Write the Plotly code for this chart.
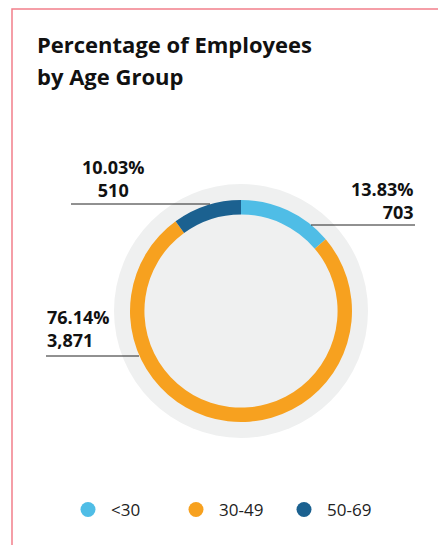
import plotly.graph_objects as go

# data
groups = ["<30", "30-49", "50-69"]
counts = [703, 3871, 510]
colors = ["#4fbde6", "#f7a11f", "#1b6190"]

total = sum(counts)
pcts = [c / total * 100 for c in counts]

W, H = 446, 545
OFF = 8  # page body margin
FONT = "Open Sans"

def px_x(x):
    return (x - OFF) / W

def px_y(y):
    return 1 - (y - OFF) / H

fig = go.Figure()

# grey disc behind the ring
fig.add_trace(go.Pie(
    values=[1], marker=dict(colors=["#eff0f0"], line=dict(width=0)),
    textinfo="none", hoverinfo="skip", showlegend=False, sort=False,
    domain=dict(x=[px_x(114), px_x(368)], y=[px_y(438), px_y(184)]),
))

# the ring
fig.add_trace(go.Pie(
    labels=groups, values=counts, hole=0.87, sort=False, direction="clockwise",
    marker=dict(colors=colors, line=dict(width=0)),
    textinfo="none", showlegend=False,
    domain=dict(x=[px_x(130), px_x(352)], y=[px_y(422), px_y(200)]),
))

# legend entries as round markers
for g, c in zip(groups, colors):
    fig.add_trace(go.Scatter(
        x=[None], y=[None], mode="markers", name=g,
        marker=dict(color=c, size=15, symbol="circle"),
    ))

lab = "<b>%.2f%%<br>%s</b>"
fig.add_annotation(x=px_x(113), y=px_y(178), text=lab % (pcts[2], f"{counts[2]:,}"),
                   align="center", xanchor="center", yanchor="middle")
fig.add_annotation(x=px_x(416), y=px_y(200), text=lab % (pcts[0], f"{counts[0]:,}"),
                   align="right", xanchor="right", yanchor="middle")
fig.add_annotation(x=px_x(45), y=px_y(328), text=lab % (pcts[1], f"{counts[1]:,}"),
                   align="left", xanchor="left", yanchor="middle")
fig.update_annotations(xref="paper", yref="paper", showarrow=False,
                       font=dict(family=FONT, size=18, color="#111111"))

# title
fig.add_annotation(x=px_x(35), y=px_y(44), text="<b>Percentage of Employees</b>",
                   xref="paper", yref="paper", showarrow=False, xanchor="left", yanchor="middle",
                   font=dict(family=FONT, size=22, color="#111111"))
fig.add_annotation(x=px_x(35), y=px_y(76), text="<b>by Age Group</b>",
                   xref="paper", yref="paper", showarrow=False, xanchor="left", yanchor="middle",
                   font=dict(family=FONT, size=22, color="#111111"))

# leader lines
lines = [(71, 210, 204), (311, 415, 225), (46, 139, 356)]
for x0, x1, y in lines:
    fig.add_shape(type="line", xref="paper", yref="paper",
                  x0=px_x(x0), x1=px_x(x1), y0=px_y(y), y1=px_y(y),
                  line=dict(color="#222222", width=1))

# card border
fig.add_shape(type="rect", xref="paper", yref="paper",
              x0=px_x(12), x1=px_x(441), y0=px_y(9), y1=px_y(600),
              line=dict(color="#f27f8a", width=1.5))

fig.update_layout(
    width=W, height=H,
    margin=dict(l=0, r=0, t=0, b=0),
    paper_bgcolor="white", plot_bgcolor="white",
    xaxis=dict(visible=False), yaxis=dict(visible=False),
    legend=dict(orientation="h", x=px_x(65), y=px_y(510), xanchor="left", yanchor="middle",
                itemwidth=36, entrywidth=57, font=dict(family=FONT, size=17, color="#222222"),
                bgcolor="rgba(0,0,0,0)"),
)

fig.write_html("out.html")
